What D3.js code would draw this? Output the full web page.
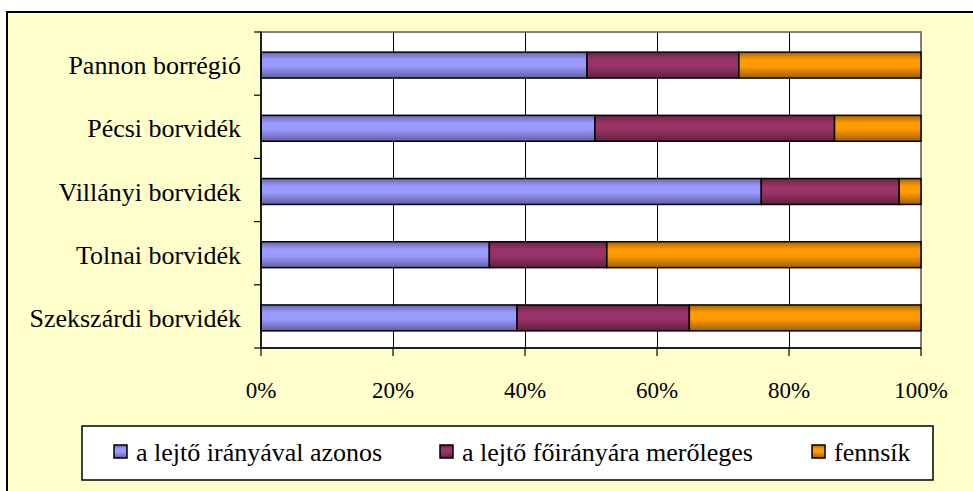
<!DOCTYPE html>
<html>
<head>
<meta charset="utf-8">
<script src="https://cdn.jsdelivr.net/npm/d3@7"></script>
<style>
  html, body { margin: 0; padding: 0; background: #ffffff; }
  svg { display: block; }
  text { font-family: "Liberation Serif", "Times New Roman", serif; fill: #000; }
</style>
</head>
<body>
<svg id="chart" width="973" height="491"></svg>
<script>
const categories = ["Pannon borrégió", "Pécsi borvidék", "Villányi borvidék", "Tolnai borvidék", "Szekszárdi borvidék"];
const seriesNames = ["a lejtő irányával azonos", "a lejtő főirányára merőleges", "fennsík"];
const seriesColors = ["#9999FF", "#993366", "#FF9900"];
const azonos =   [49.4, 50.6, 75.8, 34.6, 38.8];
const meroleges = [23.0, 36.3, 20.9, 17.8, 26.1];
const fennsik =  [27.6, 13.1, 3.3, 47.6, 35.1];
const tickValues = [0, 20, 40, 60, 80, 100];
const tickLabels = ["0%", "20%", "40%", "60%", "80%", "100%"];

const seriesValues = [azonos, meroleges, fennsik];
const rows = categories.map((c, i) => {
  const r = { cat: c };
  seriesNames.forEach((s, j) => r[s] = seriesValues[j][i]);
  return r;
});

const FONT = "'Liberation Serif', 'Times New Roman', serif";
const svg = d3.select("#chart");
const defs = svg.append("defs");

// Outer chart area
svg.append("rect").attr("x", 7).attr("y", 12).attr("width", 1010).attr("height", 500)
  .attr("fill", "#FFFFCC").attr("stroke", "#000").attr("stroke-width", 2);

const plot = { left: 261, right: 921, top: 32, bottom: 348 };
const x = d3.scaleLinear().domain([0, 100]).range([plot.left, plot.right]);
const y = d3.scaleBand().domain(categories).range([plot.top, plot.bottom]).paddingInner(0.59).paddingOuter(0.295);
const yb = d3.scaleBand().domain(categories).range([plot.top, plot.bottom]);

// plot background
svg.append("rect").attr("x", plot.left).attr("y", plot.top)
  .attr("width", plot.right - plot.left).attr("height", plot.bottom - plot.top)
  .attr("fill", "#ffffff").attr("stroke", "#808080").attr("stroke-width", 2);

// gridlines
svg.append("g").selectAll("line").data(tickValues.slice(1, -1)).join("line")
  .attr("x1", d => x(d)).attr("x2", d => x(d))
  .attr("y1", plot.top).attr("y2", plot.bottom)
  .attr("stroke", "#000").attr("stroke-width", 1).attr("shape-rendering", "crispEdges");

// gradients
seriesColors.forEach((col, i) => {
  const g = defs.append("linearGradient").attr("id", "grad" + i)
    .attr("x1", 0).attr("y1", 0).attr("x2", 0).attr("y2", 1);
  const c = d3.color(col);
  g.append("stop").attr("offset", "0%").attr("stop-color", c.darker(1.1));
  g.append("stop").attr("offset", "30%").attr("stop-color", c.brighter(0.05));
  g.append("stop").attr("offset", "55%").attr("stop-color", c);
  g.append("stop").attr("offset", "100%").attr("stop-color", c.darker(1.3));
});

// stack
const stack = d3.stack().keys(seriesNames)(rows);
svg.append("g").selectAll("g").data(stack).join("g")
  .attr("fill", (d, i) => "url(#grad" + i + ")")
  .selectAll("rect").data(d => d).join("rect")
  .attr("x", d => x(d[0]))
  .attr("y", d => y(d.data.cat) + 1.5)
  .attr("width", d => x(d[1]) - x(d[0]))
  .attr("height", y.bandwidth())
  .attr("stroke", "#000").attr("stroke-width", 1.5);

// y axis
const yAxis = svg.append("g");
yAxis.append("line").attr("x1", plot.left).attr("x2", plot.left)
  .attr("y1", plot.top).attr("y2", plot.bottom).attr("stroke", "#000").attr("stroke-width", 1.5);
const bounds = categories.map(c => yb(c)).concat([plot.bottom]);
yAxis.selectAll("line.tk").data(bounds).join("line").attr("class", "tk")
  .attr("x1", plot.left - 7).attr("x2", plot.left)
  .attr("y1", d => d).attr("y2", d => d).attr("stroke", "#000").attr("stroke-width", 1.2);
yAxis.selectAll("text").data(categories).join("text")
  .attr("x", 241).attr("y", d => yb(d) + yb.bandwidth() / 2 + 1.5)
  .attr("dy", "0.35em").attr("text-anchor", "end")
  .attr("font-family", FONT).attr("font-size", "26px").text(d => d);

// x axis
const xAxis = svg.append("g");
xAxis.append("line").attr("x1", plot.left).attr("x2", plot.right)
  .attr("y1", plot.bottom).attr("y2", plot.bottom).attr("stroke", "#000").attr("stroke-width", 1.5);
xAxis.selectAll("line.tk").data(tickValues).join("line").attr("class", "tk")
  .attr("x1", d => x(d)).attr("x2", d => x(d))
  .attr("y1", plot.bottom).attr("y2", plot.bottom + 8).attr("stroke", "#000").attr("stroke-width", 1.2);
xAxis.selectAll("text").data(tickValues).join("text")
  .attr("x", d => x(d)).attr("y", 398).attr("text-anchor", "middle")
  .attr("font-family", FONT).attr("font-size", "23px").text((d, i) => tickLabels[i]);

// legend
const lg = svg.append("g");
lg.append("rect").attr("x", 82).attr("y", 426).attr("width", 851).attr("height", 54)
  .attr("fill", "#fff").attr("stroke", "#000").attr("stroke-width", 1.5);
const legendX = [114, 440, 812];
seriesNames.forEach((s, i) => {
  lg.append("rect").attr("x", legendX[i]).attr("y", 445).attr("width", 13).attr("height", 13)
    .attr("fill", "url(#grad" + i + ")").attr("stroke", "#000").attr("stroke-width", 1.5);
  lg.append("text").attr("x", legendX[i] + 22).attr("y", 461)
    .attr("font-family", FONT).attr("font-size", "26px").text(s);
});
</script>
</body>
</html>
